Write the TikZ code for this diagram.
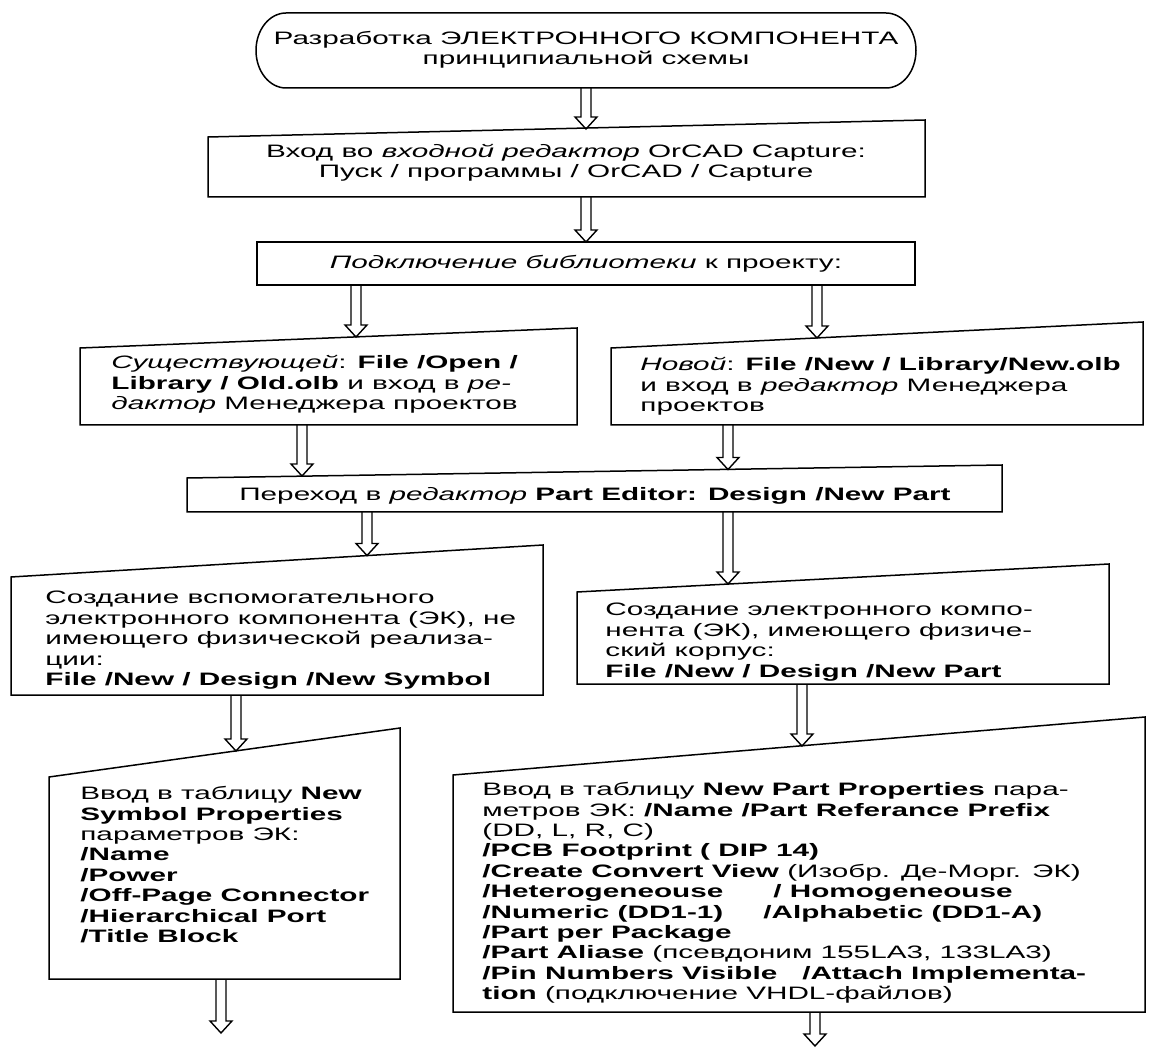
\documentclass[tikz,border=0pt]{standalone}
\usepackage{fontspec}
\setmainfont{Liberation Sans}[FakeStretch=1.65]
\usetikzlibrary{calc}
\tikzset{
  box/.style={draw=black, line width=0.75pt, line join=miter},
  txt/.style={inner sep=0pt, align=left, anchor=north west, font=\fontsize{9}{10.2}\selectfont},
  ctxt/.style={inner sep=0pt, align=center, font=\fontsize{9}{10.2}\selectfont},
  harrow/.style={draw=black, line width=0.7pt, line join=miter},
}
\newcommand\hollowarrow[2]{\path[harrow] let \p1=(#1), \p2=(#2) in
  (\x1-2.5pt,\y1) -- (\x1-2.5pt,\y2+6pt) -- (\x1-5.5pt,\y2+6pt) -- (\x1,\y2)
  -- (\x1+5.5pt,\y2+6pt) -- (\x1+2.5pt,\y2+6pt) -- (\x1+2.5pt,\y1);}
\begin{document}
\begin{tikzpicture}[x=0.5pt,y=-0.5pt]
\fill[white] (0,0) rectangle (1153,1048);
\useasboundingbox (0,0) rectangle (1153,1048);
% terminal
\draw[box] (286,13) -- (886,13) arc[start angle=90,end angle=-90,x radius=15pt,y radius=18.75pt]
  -- (286,88) arc[start angle=270,end angle=90,x radius=15pt,y radius=18.75pt] -- cycle;
\node[ctxt] (t0) at (586,50) {Разработка ЭЛЕКТРОННОГО КОМПОНЕНТА\\принципиальной схемы};
% box 2
\draw[box] (208,137) -- (925,120) -- (925,197) -- (208,197) -- cycle;
\node[ctxt] (t2) at (566,163) {Вход во \textit{входной редактор} OrCAD Capture:\\Пуск / программы / OrCAD / Capture};
% box 3
\draw[box] (257,242) rectangle (915,285);
\node[ctxt] (t3) at (586,264) {\textit{Подключение библиотеки} к проекту:};
% box 4
\draw[box] (80,348) -- (577,328) -- (577,425) -- (80,425) -- cycle;
\node[txt] (t4) at (111,355) {\textit{Существующей}: \textbf{File /Open /}\\\textbf{Library / Old.olb} и вход в \textit{ре-}\\\textit{дактор} Менеджера проектов};
% box 5
\draw[box] (611,348) -- (1143,322) -- (1143,425) -- (611,425) -- cycle;
\node[txt] (t5) at (640,357) {\textit{Новой}: \textbf{File /New / Library/New.olb}\\и вход в \textit{редактор} Менеджера\\проектов};
% box 6
\draw[box] (187,478) -- (1002,465) -- (1002,512) -- (187,512) -- cycle;
\node[ctxt] (t6) at (595,496) {Переход в \textit{редактор} \textbf{Part Editor: Design /New Part}};
% box 7
\draw[box] (11,577) -- (543,545) -- (543,695) -- (11,695) -- cycle;
\node[txt] (t7) at (45,591) {Создание вспомогательного\\электронного компонента (ЭК), не\\имеющего физической реализа-\\ции:\\\textbf{File /New / Design /New Symbol}};
% box 8
\draw[box] (577,592) -- (1109,564) -- (1109,684) -- (577,684) -- cycle;
\node[txt] (t8) at (605,603) {Создание электронного компо-\\нента (ЭК), имеющего физиче-\\ский корпус:\\\textbf{File /New / Design /New Part}};
% box 9
\draw[box] (49,777) -- (400,728) -- (400,979) -- (49,979) -- cycle;
\node[txt] (t9) at (80,786) {Ввод в таблицу \textbf{New}\\\textbf{Symbol Properties}\\параметров ЭК:\\\textbf{/Name}\\\textbf{/Power}\\\textbf{/Off-Page Connector}\\\textbf{/Hierarchical Port}\\\textbf{/Title Block}};
% box 10
\draw[box] (453,775) -- (1145,717) -- (1145,1012) -- (453,1012) -- cycle;
\node[txt] (t10) at (482,782) {Ввод в таблицу \textbf{New Part Properties} пара-\\метров ЭК: \textbf{/Name /Part Referance Prefix}\\(DD, L, R, C)\\\textbf{/PCB Footprint ( DIP 14)}\\\textbf{/Create Convert View} (Изобр. Де-Морг. ЭК)\\\textbf{/Heterogeneouse\hspace{25pt}/ Homogeneouse}\\\textbf{/Numeric (DD1-1)\hspace{20pt}/Alphabetic (DD1-A)}\\\textbf{/Part per Package}\\\textbf{/Part Aliase} (псевдоним 155LA3, 133LA3)\\\textbf{/Pin Numbers Visible\hspace{12.5pt}/Attach Implementa-}\\\textbf{tion} (подключение VHDL-файлов)};
% arrow coordinates
\coordinate (a1s) at (586,88);   \coordinate (a1e) at (586,129);
\coordinate (a2s) at (586,197);  \coordinate (a2e) at (586,242);
\coordinate (a3s) at (356,285);  \coordinate (a3e) at (356,337);
\coordinate (a4s) at (817,285);  \coordinate (a4e) at (817,338);
\coordinate (a5s) at (302,425);  \coordinate (a5e) at (302,476);
\coordinate (a6s) at (728,425);  \coordinate (a6e) at (728,469.5);
\coordinate (a7s) at (367,512);  \coordinate (a7e) at (367,555.5);
\coordinate (a8s) at (728,512);  \coordinate (a8e) at (728,584);
\coordinate (a9s) at (236,695);  \coordinate (a9e) at (236,751);
\coordinate (a10s) at (802,684); \coordinate (a10e) at (802,746);
\coordinate (a11s) at (221,979); \coordinate (a11e) at (221,1033);
\coordinate (a12s) at (815,1012); \coordinate (a12e) at (815,1046);
\hollowarrow{a1s}{a1e}
\hollowarrow{a2s}{a2e}
\hollowarrow{a3s}{a3e}
\hollowarrow{a4s}{a4e}
\hollowarrow{a5s}{a5e}
\hollowarrow{a6s}{a6e}
\hollowarrow{a7s}{a7e}
\hollowarrow{a8s}{a8e}
\hollowarrow{a9s}{a9e}
\hollowarrow{a10s}{a10e}
\hollowarrow{a11s}{a11e}
\hollowarrow{a12s}{a12e}
\end{tikzpicture}
\end{document}
